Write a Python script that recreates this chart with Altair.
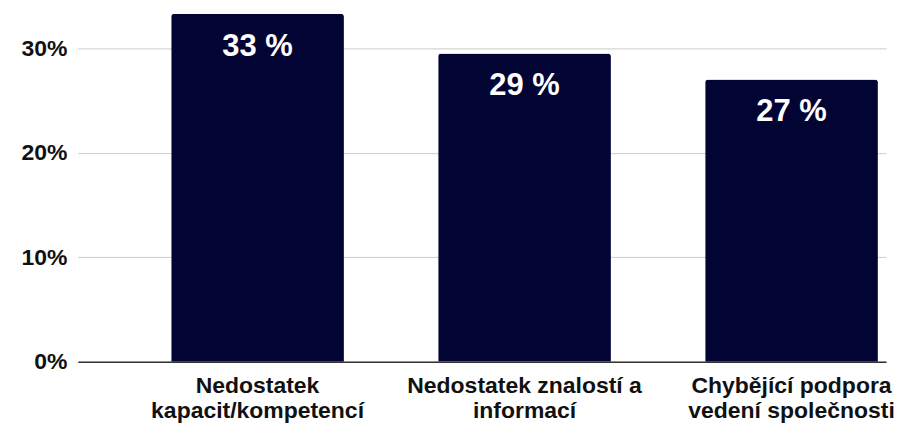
import altair as alt
import pandas as pd

categories = ["Nedostatek|kapacit/kompetencí", "Nedostatek znalostí a|informací", "Chybějící podpora|vedení společnosti"]
values = [0.333, 0.295, 0.270]
labels = ["33 %", "29 %", "27 %"]

df = pd.DataFrame({"cat": categories, "val": values, "lab": labels})

FONT = "Liberation Sans"

x = alt.X("cat:N", sort=None, title=None,
          scale=alt.Scale(paddingInner=0.353, paddingOuter=0.19, align=0.92),
          axis=alt.Axis(labelAngle=0, labelExpr="split(datum.label, '|')",
                        labelFont=FONT, labelFontSize=23, labelFontWeight="bold",
                        labelColor="#111111", labelLineHeight=25, labelPadding=13,
                        ticks=False, domain=True, domainColor="#333333", domainWidth=1.5,
                        labelLimit=400))

y = alt.Y("val:Q", title=None,
          scale=alt.Scale(domain=[0, 0.338], nice=False),
          axis=alt.Axis(values=[0, 0.1, 0.2, 0.3], format=".0%", labelFont=FONT,
                        labelFontSize=23, labelFontWeight="bold", labelColor="#111111",
                        ticks=False, domain=False, gridColor="#cccccc", labelPadding=11))

bars = alt.Chart(df).mark_bar(color="#020433", cornerRadiusTopLeft=3, cornerRadiusTopRight=3).encode(x=x, y=y)

text = alt.Chart(df).mark_text(color="white", font=FONT, fontSize=31, fontWeight="bold",
                               baseline="middle", dy=33).encode(x=alt.X("cat:N", sort=None), y="val:Q", text="lab:N")

chart = (bars + text).properties(
    width=810, height=354,
    padding={"left": 12, "top": 0, "right": 0, "bottom": 0},
).configure_view(stroke=None)

chart.save("out.html", embed_options={"renderer": "svg", "actions": False})
